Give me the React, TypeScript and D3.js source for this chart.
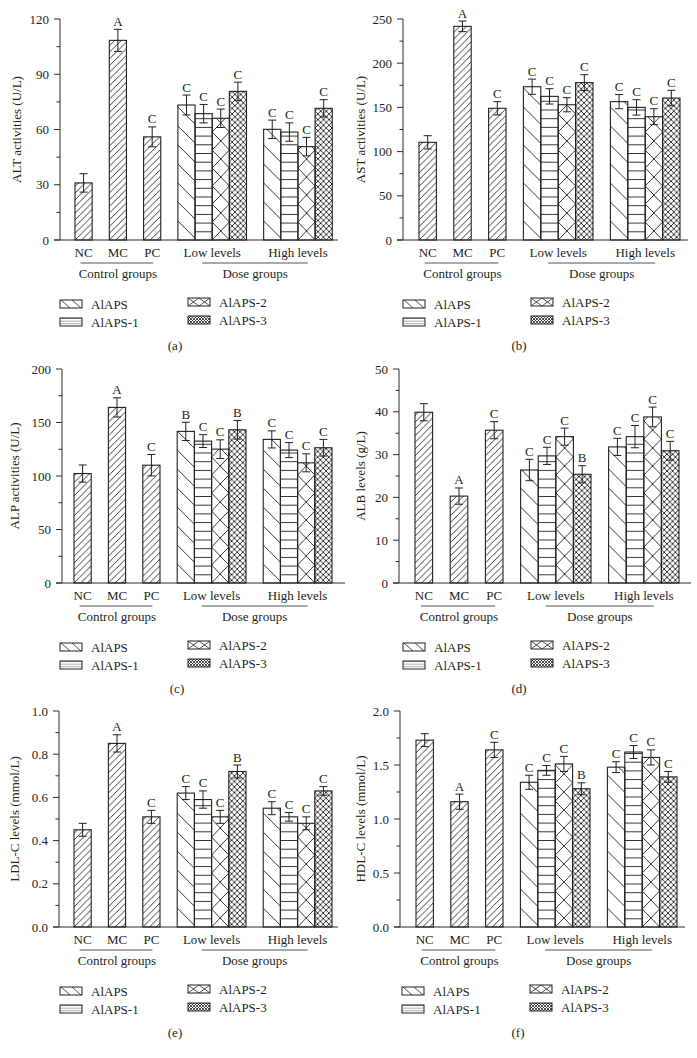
import React from 'react';
import * as d3 from 'd3';

// ---------- categories / labels ----------
const controlCategories = ['NC', 'MC', 'PC'];
const doseLevels = ['Low levels', 'High levels'];
const groupNames = ['Control groups', 'Dose groups'];
const seriesNames = ['AlAPS', 'AlAPS-1', 'AlAPS-2', 'AlAPS-3'];

// ---------- (a) ALT ----------
const altControl = [31, 108.4, 56];
const altControlErr = [5, 6, 5.4];
const altControlSig = ['', 'A', 'C'];
const altLow = [73.3, 68.6, 66.1, 80.7];
const altLowErr = [5.4, 5, 5, 5];
const altLowSig = ['C', 'C', 'C', 'C'];
const altHigh = [60.1, 58.6, 50.7, 71.5];
const altHighErr = [5, 5, 5, 4.7];
const altHighSig = ['C', 'C', 'C', 'C'];

// ---------- (b) AST ----------
const astControl = [110.5, 241.7, 149];
const astControlErr = [7.5, 6, 7.5];
const astControlSig = ['', 'A', 'C'];
const astLow = [173.4, 162.5, 153, 178];
const astLowErr = [8.6, 8.7, 8, 9];
const astLowSig = ['C', 'C', 'C', 'C'];
const astHigh = [156.5, 150, 139.5, 160.6];
const astHighErr = [8, 8.7, 9, 8.7];
const astHighSig = ['C', 'C', 'C', 'C'];

// ---------- (c) ALP ----------
const alpControl = [102.3, 164.1, 110.1];
const alpControlErr = [8, 9, 10];
const alpControlSig = ['', 'A', 'C'];
const alpLow = [141.7, 132.6, 125.1, 143.2];
const alpLowErr = [8.5, 6, 8.7, 8.7];
const alpLowSig = ['B', 'C', 'C', 'B'];
const alpHigh = [134.2, 124.2, 112.3, 126.4];
const alpHighErr = [8, 7, 8.4, 7.8];
const alpHighSig = ['C', 'C', 'C', 'C'];

// ---------- (d) ALB ----------
const albControl = [39.9, 20.3, 35.7];
const albControlErr = [2, 1.9, 2];
const albControlSig = ['', 'A', 'C'];
const albLow = [26.4, 29.7, 34.2, 25.4];
const albLowErr = [2.5, 2, 2, 2];
const albLowSig = ['C', 'C', 'C', 'B'];
const albHigh = [31.8, 34.2, 38.8, 30.9];
const albHighErr = [2, 2.6, 2.3, 2.2];
const albHighSig = ['C', 'C', 'C', 'C'];

// ---------- (e) LDL-C ----------
const ldlControl = [0.45, 0.85, 0.51];
const ldlControlErr = [0.03, 0.04, 0.03];
const ldlControlSig = ['', 'A', 'C'];
const ldlLow = [0.62, 0.59, 0.51, 0.72];
const ldlLowErr = [0.03, 0.04, 0.03, 0.03];
const ldlLowSig = ['C', 'C', 'C', 'B'];
const ldlHigh = [0.55, 0.51, 0.48, 0.63];
const ldlHighErr = [0.03, 0.02, 0.03, 0.02];
const ldlHighSig = ['C', 'C', 'C', 'C'];

// ---------- (f) HDL-C ----------
const hdlControl = [1.73, 1.16, 1.64];
const hdlControlErr = [0.06, 0.07, 0.07];
const hdlControlSig = ['', 'A', 'C'];
const hdlLow = [1.34, 1.45, 1.51, 1.28];
const hdlLowErr = [0.065, 0.045, 0.07, 0.055];
const hdlLowSig = ['C', 'C', 'C', 'B'];
const hdlHigh = [1.48, 1.62, 1.57, 1.39];
const hdlHighErr = [0.05, 0.06, 0.07, 0.05];
const hdlHighSig = ['C', 'C', 'C', 'C'];

const FONT = '"Liberation Serif", "Times New Roman", serif';
const INK = '#231f20';
const AXIS = '#2a2a2a';

const slotControl = [0, 2, 4];
const slotLow = [6, 7, 8, 9];
const slotHigh = [11, 12, 13, 14];
const seriesTypes = ['diag', 'h', 'x', 'dense'];

type PanelCfg = {
  key: string;
  title: string;
  max: number;
  step: number;
  fmt: (n: number) => string;
  axisX: number;
  ncLeft: number;
  w: number;
  top: number;
  bottom: number;
  right: number;
  titleX: number;
  capX: number;
  legendX: number;
  control: number[]; controlErr: number[]; controlSig: string[];
  low: number[]; lowErr: number[]; lowSig: string[];
  high: number[]; highErr: number[]; highSig: string[];
};

const fInt = d3.format('d');
const f1 = d3.format('.1f');

const panels: PanelCfg[] = [
  { key: 'a', title: 'ALT activities (U/L)', max: 120, step: 30, fmt: fInt, axisX: 60, ncLeft: 75, w: 17.15, top: 19, bottom: 240, right: 338, titleX: 17, capX: 175, legendX: 60,
    control: altControl, controlErr: altControlErr, controlSig: altControlSig, low: altLow, lowErr: altLowErr, lowSig: altLowSig, high: altHigh, highErr: altHighErr, highSig: altHighSig },
  { key: 'b', title: 'AST activities (U/L)', max: 250, step: 50, fmt: fInt, axisX: 403, ncLeft: 419, w: 17.4, top: 19, bottom: 240, right: 688, titleX: 361, capX: 519, legendX: 403,
    control: astControl, controlErr: astControlErr, controlSig: astControlSig, low: astLow, lowErr: astLowErr, lowSig: astLowSig, high: astHigh, highErr: astHighErr, highSig: astHighSig },
  { key: 'c', title: 'ALP activities (U/L)', max: 200, step: 50, fmt: fInt, axisX: 62, ncLeft: 74, w: 17.2, top: 369, bottom: 583, right: 345, titleX: 15, capX: 177, legendX: 60,
    control: alpControl, controlErr: alpControlErr, controlSig: alpControlSig, low: alpLow, lowErr: alpLowErr, lowSig: alpLowSig, high: alpHigh, highErr: alpHighErr, highSig: alpHighSig },
  { key: 'd', title: 'ALB levels (g/L)', max: 50, step: 10, fmt: fInt, axisX: 399, ncLeft: 415, w: 17.6, top: 369, bottom: 583, right: 691, titleX: 361, capX: 519, legendX: 403,
    control: albControl, controlErr: albControlErr, controlSig: albControlSig, low: albLow, lowErr: albLowErr, lowSig: albLowSig, high: albHigh, highErr: albHighErr, highSig: albHighSig },
  { key: 'e', title: 'LDL-C levels (mmol/L)', max: 1.0, step: 0.2, fmt: f1, axisX: 59, ncLeft: 74, w: 17.2, top: 711, bottom: 927, right: 338, titleX: 15, capX: 175, legendX: 60,
    control: ldlControl, controlErr: ldlControlErr, controlSig: ldlControlSig, low: ldlLow, lowErr: ldlLowErr, lowSig: ldlLowSig, high: ldlHigh, highErr: ldlHighErr, highSig: ldlHighSig },
  { key: 'f', title: 'HDL-C levels (mmol/L)', max: 2.0, step: 0.5, fmt: f1, axisX: 400, ncLeft: 416, w: 17.4, top: 711, bottom: 927, right: 685, titleX: 361, capX: 518, legendX: 402,
    control: hdlControl, controlErr: hdlControlErr, controlSig: hdlControlSig, low: hdlLow, lowErr: hdlLowErr, lowSig: hdlLowSig, high: hdlHigh, highErr: hdlHighErr, highSig: hdlHighSig },
];

function BarPattern({ id, type, x0, y0, w }: { id: string; type: string; x0: number; y0: number; w: number }) {
  const sw = 0.9;
  if (type === 'ctrl') {
    const s = 6.7;
    return (
      <pattern id={id} x={x0} y={y0} width={s} height={s} patternUnits="userSpaceOnUse">
        <path d={`M${-1},${s + 1} L${s + 1},${-1} M${-s / 2 - 1},${s / 2 + 1} L${s / 2 + 1},${-s / 2 - 1} M${s / 2 - 1},${s * 1.5 + 1} L${s * 1.5 + 1},${s / 2 - 1}`} stroke={INK} strokeWidth={sw} fill="none" />
      </pattern>
    );
  }
  if (type === 'diag') {
    const s = 19;
    return (
      <pattern id={id} x={x0} y={y0} width={s} height={s} patternUnits="userSpaceOnUse">
        <path d={`M-1,-1 L${s + 1},${s + 1}`} stroke={INK} strokeWidth={sw} fill="none" />
      </pattern>
    );
  }
  if (type === 'h') {
    const s = 8.7;
    return (
      <pattern id={id} x={x0} y={y0} width={w} height={s} patternUnits="userSpaceOnUse">
        <path d={`M0,0.5 L${w},0.5`} stroke={INK} strokeWidth={sw} fill="none" />
      </pattern>
    );
  }
  if (type === 'x') {
    const h = 18;
    return (
      <pattern id={id} x={x0} y={y0} width={w} height={h} patternUnits="userSpaceOnUse">
        <path d={`M0,0 L${w},${h} M${w},0 L0,${h}`} stroke={INK} strokeWidth={sw} fill="none" />
      </pattern>
    );
  }
  const s = 5.6;
  return (
    <pattern id={id} x={x0} y={y0} width={s} height={s} patternUnits="userSpaceOnUse">
      <path d={`M0,0 L${s},${s} M${s},0 L0,${s}`} stroke={INK} strokeWidth={sw} fill="none" />
    </pattern>
  );
}

function LegendPattern({ id, type, x0, y0 }: { id: string; type: string; x0: number; y0: number }) {
  const sw = 0.8;
  if (type === 'diag') {
    return (
      <pattern id={id} x={x0} y={y0} width={11} height={8} patternUnits="userSpaceOnUse">
        <path d="M1,0 L10,8" stroke={INK} strokeWidth={sw} fill="none" />
      </pattern>
    );
  }
  if (type === 'h') {
    return (
      <pattern id={id} x={x0} y={y0} width={22} height={8 / 3} patternUnits="userSpaceOnUse">
        <path d="M0,0 L22,0" stroke={INK} strokeWidth={sw} fill="none" />
      </pattern>
    );
  }
  if (type === 'x') {
    return (
      <pattern id={id} x={x0} y={y0} width={11} height={8} patternUnits="userSpaceOnUse">
        <path d="M0,0 L11,8 M11,0 L0,8" stroke={INK} strokeWidth={sw} fill="none" />
      </pattern>
    );
  }
  return (
    <pattern id={id} x={x0} y={y0} width={3} height={3} patternUnits="userSpaceOnUse">
      <path d="M0,0 L3,3 M3,0 L0,3" stroke={INK} strokeWidth={0.8} fill="none" />
    </pattern>
  );
}

function Panel({ p }: { p: PanelCfg }) {
  const y = d3.scaleLinear().domain([0, p.max]).range([p.bottom, p.top]);
  const x = d3.scaleLinear().domain([0, 15]).range([p.ncLeft, p.ncLeft + 15 * p.w]);
  const bw = p.w;
  const major = d3.range(0, p.max + p.step / 100, p.step);
  const minor = d3.range(p.step / 2, p.max, p.step);

  const bars = [
    ...p.control.map((v, i) => ({ v, e: p.controlErr[i], sig: p.controlSig[i], slot: slotControl[i], type: 'ctrl' })),
    ...p.low.map((v, i) => ({ v, e: p.lowErr[i], sig: p.lowSig[i], slot: slotLow[i], type: seriesTypes[i] })),
    ...p.high.map((v, i) => ({ v, e: p.highErr[i], sig: p.highSig[i], slot: slotHigh[i], type: seriesTypes[i] })),
  ];

  const cx = (slot: number) => x(slot) + bw / 2;
  const catCenters = slotControl.map(cx);
  const lowCenter = x(slotLow[0]) + (4 * bw) / 2;
  const highCenter = x(slotHigh[0]) + (4 * bw) / 2;
  const b = p.bottom;
  const fs = 13;

  const legendRows = [
    { col: 0, row: 0, i: 0 },
    { col: 0, row: 1, i: 1 },
    { col: 1, row: 0, i: 2 },
    { col: 1, row: 1, i: 3 },
  ];

  return (
    <g>
      <defs>
        {bars.map((d, i) => (
          <BarPattern key={i} id={`bp-${p.key}-${i}`} type={d.type} x0={x(d.slot)} y0={b} w={bw} />
        ))}
        {legendRows.map((r) => {
          const lx = p.legendX + r.col * 128;
          const ly = b + (r.col === 0 ? 60 : 58) + r.row * 18;
          return <LegendPattern key={r.i} id={`lp-${p.key}-${r.i}`} type={seriesTypes[r.i]} x0={lx} y0={ly} />;
        })}
      </defs>

      {/* y axis title */}
      <text
        transform={`translate(${p.titleX + 4},${(p.top + p.bottom) / 2}) rotate(-90)`}
        textAnchor="middle"
        fontFamily={FONT}
        fontSize={fs}
        fill={INK}
      >
        {p.title}
      </text>

      {/* bars */}
      {bars.map((d, i) => (
        <rect
          key={i}
          x={x(d.slot)}
          y={y(d.v)}
          width={bw}
          height={b - y(d.v)}
          fill={`url(#bp-${p.key}-${i})`}
          stroke={INK}
          strokeWidth={1.1}
        />
      ))}

      {/* error bars */}
      {bars.map((d, i) => {
        const c = cx(d.slot);
        const y1 = y(d.v + d.e);
        const y0 = y(d.v - d.e);
        return (
          <g key={i} stroke={INK} strokeWidth={1} fill="none">
            <line x1={c} x2={c} y1={y1} y2={y0} />
            <line x1={c - 4} x2={c + 4} y1={y1} y2={y1} />
            <line x1={c - 4} x2={c + 4} y1={y0} y2={y0} />
          </g>
        );
      })}

      {/* significance letters */}
      {bars.map((d, i) =>
        d.sig ? (
          <text key={i} x={cx(d.slot)} y={y(d.v + d.e) - 3.5} textAnchor="middle" fontFamily={FONT} fontSize={fs} fill={INK}>
            {d.sig}
          </text>
        ) : null
      )}

      {/* axes */}
      <line x1={p.axisX} x2={p.axisX} y1={p.top} y2={b} stroke={AXIS} strokeWidth={1} />
      <line x1={p.axisX - 6} x2={p.right} y1={b} y2={b} stroke={AXIS} strokeWidth={1} />
      {major.map((t) => (
        <g key={`M${t}`}>
          <line x1={p.axisX - 6} x2={p.axisX} y1={y(t)} y2={y(t)} stroke={AXIS} strokeWidth={1} />
          <text x={p.axisX - 11} y={y(t) + 4.5} textAnchor="end" fontFamily={FONT} fontSize={fs} fill={INK}>
            {p.fmt(t)}
          </text>
        </g>
      ))}
      {minor.map((t) => (
        <line key={`m${t}`} x1={p.axisX - 3.5} x2={p.axisX} y1={y(t)} y2={y(t)} stroke={AXIS} strokeWidth={1} />
      ))}

      {/* category labels */}
      {controlCategories.map((c, i) => (
        <text key={c} x={catCenters[i]} y={b + 16.5} textAnchor="middle" fontFamily={FONT} fontSize={fs} fill={INK}>
          {c}
        </text>
      ))}
      <text x={lowCenter} y={b + 16.5} textAnchor="middle" fontFamily={FONT} fontSize={fs} fill={INK}>
        {doseLevels[0]}
      </text>
      <text x={highCenter} y={b + 16.5} textAnchor="middle" fontFamily={FONT} fontSize={fs} fill={INK}>
        {doseLevels[1]}
      </text>

      {/* group underlines and labels */}
      <line x1={catCenters[0] - 3} x2={catCenters[2] + 1} y1={b + 23} y2={b + 23} stroke="#555" strokeWidth={1} />
      <line x1={lowCenter - 10} x2={highCenter + 10} y1={b + 23} y2={b + 23} stroke="#555" strokeWidth={1} />
      <text x={(catCenters[0] + catCenters[2]) / 2} y={b + 37.5} textAnchor="middle" fontFamily={FONT} fontSize={fs} fill={INK}>
        {groupNames[0]}
      </text>
      <text x={(lowCenter + highCenter) / 2} y={b + 37.5} textAnchor="middle" fontFamily={FONT} fontSize={fs} fill={INK}>
        {groupNames[1]}
      </text>

      {/* legend */}
      {legendRows.map((r) => {
        const lx = p.legendX + r.col * 128;
        const ly = b + (r.col === 0 ? 60 : 58) + r.row * 18;
        return (
          <g key={r.i}>
            <rect x={lx} y={ly} width={22} height={8} fill="#fff" />
            <rect x={lx} y={ly} width={22} height={8} fill={`url(#lp-${p.key}-${r.i})`} stroke={INK} strokeWidth={1} />
            <text x={lx + 31} y={ly + 8.5} fontFamily={FONT} fontSize={fs} fill={INK}>
              {seriesNames[r.i]}
            </text>
          </g>
        );
      })}

      {/* caption */}
      <text x={p.capX} y={b + 109.5} textAnchor="middle" fontFamily={FONT} fontSize={fs} fill={INK}>
        {`(${p.key})`}
      </text>
    </g>
  );
}

export default function App() {
  return (
    <svg
      width={697}
      height={1058}
      viewBox="0 0 697 1058"
      style={{ position: 'absolute', left: 0, top: 0, background: '#fff' }}
    >
      <rect x={0} y={0} width={697} height={1058} fill="#fff" />
      {panels.map((p) => (
        <Panel key={p.key} p={p} />
      ))}
    </svg>
  );
}
